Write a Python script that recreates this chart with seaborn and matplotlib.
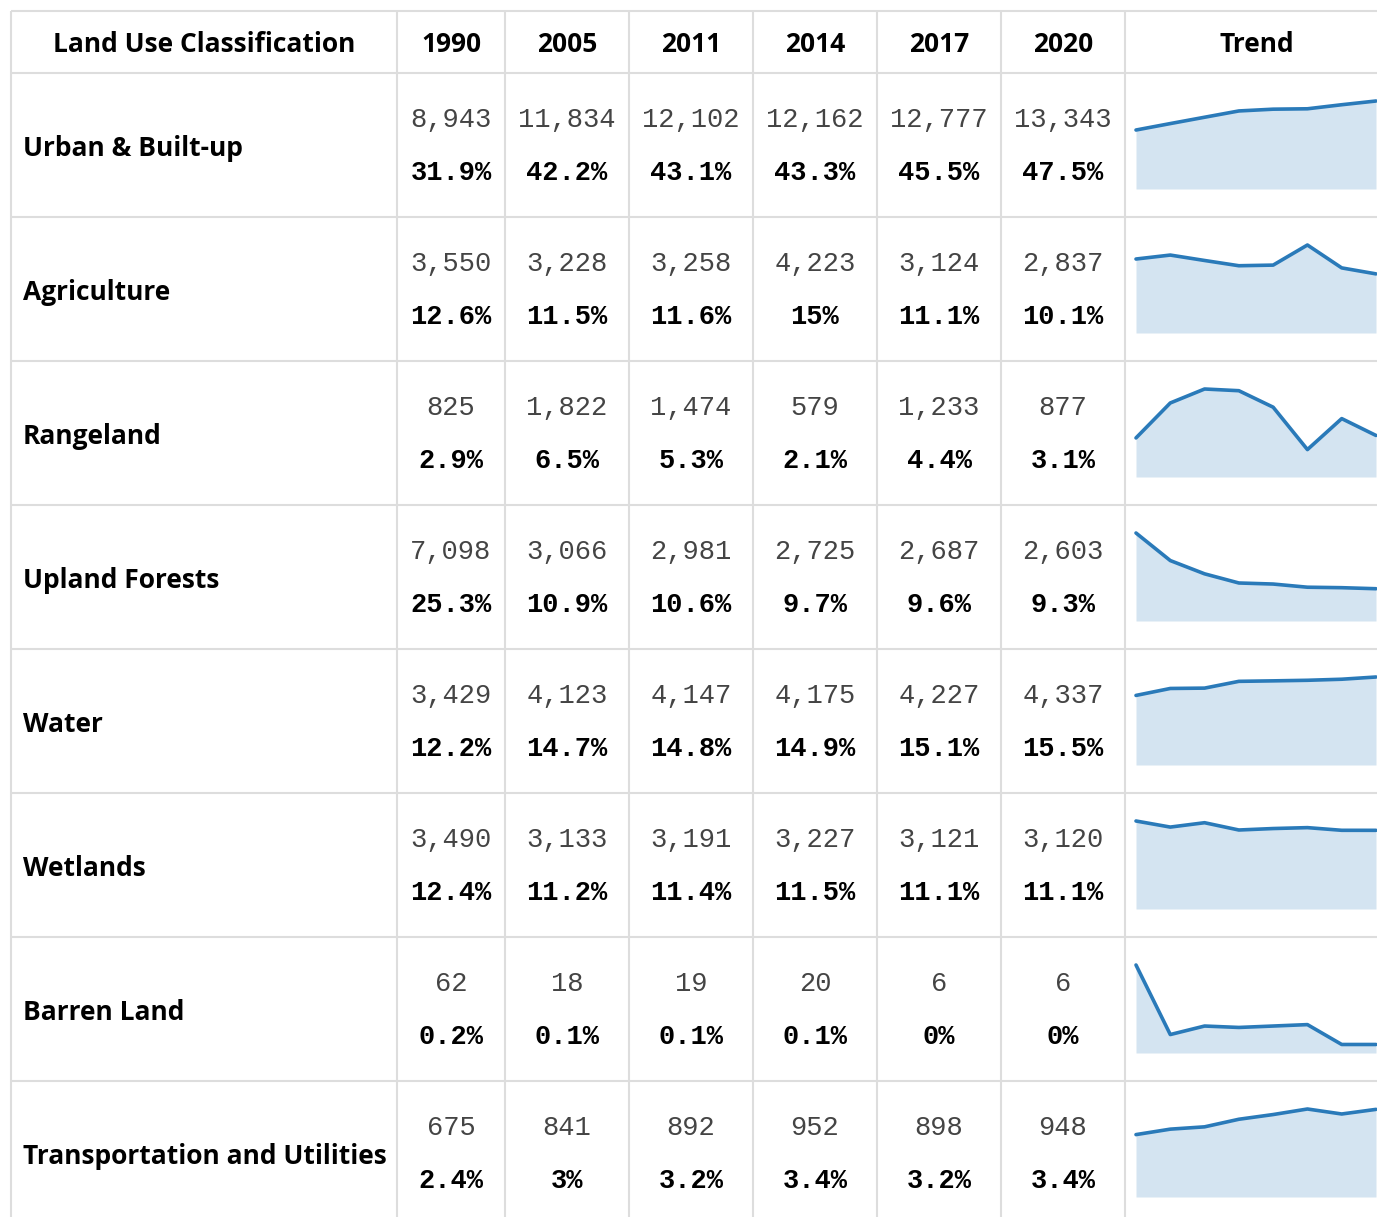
import matplotlib
matplotlib.use("Agg")
import matplotlib.pyplot as plt
import seaborn as sns
import pandas as pd

CATEGORIES = ["Urban & Built-up", "Agriculture", "Rangeland", "Upland Forests",
              "Water", "Wetlands", "Barren Land", "Transportation and Utilities"]
YEARS = ["1990", "2005", "2011", "2014", "2017", "2020"]

AREA_VALUES = [
    [8943, 11834, 12102, 12162, 12777, 13343],
    [3550, 3228, 3258, 4223, 3124, 2837],
    [825, 1822, 1474, 579, 1233, 877],
    [7098, 3066, 2981, 2725, 2687, 2603],
    [3429, 4123, 4147, 4175, 4227, 4337],
    [3490, 3133, 3191, 3227, 3121, 3120],
    [62, 18, 19, 20, 6, 6],
    [675, 841, 892, 952, 898, 948],
]
SHARE_PCT = [
    [31.9, 42.2, 43.1, 43.3, 45.5, 47.5],
    [12.6, 11.5, 11.6, 15, 11.1, 10.1],
    [2.9, 6.5, 5.3, 2.1, 4.4, 3.1],
    [25.3, 10.9, 10.6, 9.7, 9.6, 9.3],
    [12.2, 14.7, 14.8, 14.9, 15.1, 15.5],
    [12.4, 11.2, 11.4, 11.5, 11.1, 11.1],
    [0.2, 0.1, 0.1, 0.1, 0, 0],
    [2.4, 3, 3.2, 3.4, 3.2, 3.4],
]
# sparkline series (8 points, incl. two intermediate years not shown in the table)
TREND_VALUES = [
    [8943, 9920, 10880, 11834, 12102, 12162, 12777, 13343],
    [3550, 3740, 3480, 3228, 3258, 4223, 3124, 2837],
    [825, 1563, 1858, 1822, 1474, 579, 1233, 877],
    [7098, 4875, 3805, 3066, 2981, 2725, 2687, 2603],
    [3429, 3772, 3789, 4123, 4147, 4175, 4227, 4337],
    [3490, 3249, 3422, 3133, 3191, 3227, 3121, 3120],
    [62, 13, 19, 18, 19, 20, 6, 6],
    [675, 734, 759, 841, 892, 952, 898, 948],
]

W, H = 1377, 1217
COL_EDGES = [11, 397, 505, 629, 753, 877, 1001, 1125, 1388]
HEAD_TOP, HEAD_BOT, ROW_H = 11, 73, 144
GRID = "#dddddd"
LINE_BLUE = "#2a7ab9"

sns.set_theme(style="white")
plt.rcParams["font.family"] = ["Open Sans", "DejaVu Sans"]

fig = plt.figure(figsize=(W / 100, H / 100), dpi=100)
ax = fig.add_axes([0, 0, 1, 1])
ax.set_xlim(0, W)
ax.set_ylim(H, 0)
ax.axis("off")

n_rows = len(CATEGORIES)
bottom = HEAD_BOT + ROW_H * n_rows

# grid
ys = [HEAD_TOP, HEAD_BOT] + [HEAD_BOT + ROW_H * (i + 1) for i in range(n_rows)]
ax.hlines(ys, COL_EDGES[0], COL_EDGES[-1], color=GRID, lw=1.5)
ax.vlines(COL_EDGES, HEAD_TOP, bottom, color=GRID, lw=1.5)

centers = [(a + b) / 2 for a, b in zip(COL_EDGES[:-1], COL_EDGES[1:])]
head_kw = dict(fontsize=19, fontweight="bold", ha="center", va="baseline", color="black")
ax.text(centers[0], 52, "Land Use Classification", **head_kw)
for j, yr in enumerate(YEARS):
    ax.text(centers[j + 1], 52, yr, **head_kw)
ax.text(centers[-1], 52, "Trend", **head_kw)

for i, cat in enumerate(CATEGORIES):
    top = HEAD_BOT + ROW_H * i
    ax.text(23, top + 83, cat, fontsize=19, fontweight="bold", ha="left",
            va="baseline", color="black")
    for j in range(len(YEARS)):
        cx = centers[j + 1]
        ax.text(cx, top + 54, f"{AREA_VALUES[i][j]:,}", fontsize=19.5,
                family="Liberation Mono", ha="center", va="baseline", color="#444444")
        ax.text(cx, top + 107.5, f"{SHARE_PCT[i][j]:g}%", fontsize=19.5,
                family="Liberation Mono", fontweight="bold", ha="center",
                va="baseline", color="black")

    # sparkline
    sax = fig.add_axes([1136 / W, 1 - (top + 116) / H, 240 / W, 88 / H])
    df = pd.DataFrame({"idx": range(len(TREND_VALUES[i])), "val": TREND_VALUES[i]})
    sax.fill_between(df["idx"], 0, df["val"], color=LINE_BLUE, alpha=0.2, lw=0)
    sns.lineplot(data=df, x="idx", y="val", ax=sax, color=LINE_BLUE, lw=2.6)
    for ln in sax.lines:
        ln.set_clip_on(False)
    sax.set_xlim(0, len(df) - 1)
    sax.set_ylim(0, max(TREND_VALUES[i]))
    sax.axis("off")

fig.savefig("out.png", dpi=100)
